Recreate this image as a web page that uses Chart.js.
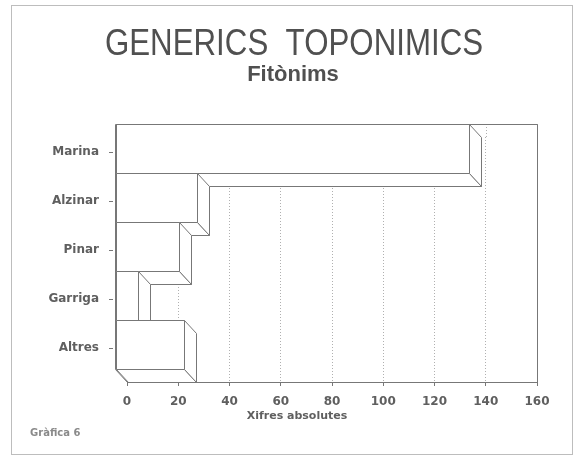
<!DOCTYPE html>
<html>
<head>
<meta charset="utf-8">
<script src="https://cdn.jsdelivr.net/npm/chart.js@4/dist/chart.umd.min.js"></script>
<style>
  html, body { margin: 0; padding: 0; background: #fff; }
</style>
</head>
<body>
<canvas id="chart" width="576" height="457"></canvas>
<script>
const categories = ['Marina', 'Alzinar', 'Pinar', 'Garriga', 'Altres'];
const counts = [138, 32, 25, 9, 27];
const xMin = 0;
const xMax = 160;
const xStep = 20;

// depth of the fake 3D boxes, in pixels
const DX = 12, DY = 13;
const LINE = '#777';
const TEXT = '#5f5f5f';
const px = v => Math.round(v) + 0.5;

const box3d = {
    id: 'box3d',
    beforeDatasetsDraw(chart) {
        // grid lines go up to the front top edge
        const { ctx, chartArea: a, scales: { x } } = chart;
        ctx.save();
        ctx.strokeStyle = '#b0b0b0';
        ctx.setLineDash([1, 2]);
        x.ticks.forEach(t => {
            const gx = px(x.getPixelForValue(t.value));
            ctx.beginPath();
            ctx.moveTo(gx, a.top - DY);
            ctx.lineTo(gx, a.top);
            ctx.stroke();
        });
        ctx.restore();
    },
    afterDatasetsDraw(chart) {
        const { ctx, chartArea: a, scales: { y } } = chart;
        const bars = chart.getDatasetMeta(0).data;
        ctx.save();
        ctx.strokeStyle = LINE;
        ctx.fillStyle = '#fff';
        ctx.lineWidth = 1;
        const poly = (pts, fill = true) => {
            ctx.beginPath();
            pts.forEach(([u, v], i) => i ? ctx.lineTo(px(u), px(v)) : ctx.moveTo(px(u), px(v)));
            ctx.closePath();
            if (fill) ctx.fill();
            ctx.stroke();
        };
        bars.forEach(bar => {
            const { x, y: cy, base, height } = bar.getProps(['x', 'y', 'base', 'height'], true);
            const top = cy - height / 2, bot = cy + height / 2;
            poly([[base - DX, bot - DY], [x - DX, bot - DY], [x, bot], [base, bot]]);
            poly([[x - DX, top - DY], [x, top], [x, bot], [x - DX, bot - DY]]);
            poly([[base - DX, top - DY], [x - DX, top - DY], [x - DX, bot - DY], [base - DX, bot - DY]]);
        });
        poly([[a.left - DX, a.top - DY], [a.right, a.top - DY], [a.right, a.bottom],
              [a.left, a.bottom], [a.left - DX, a.bottom - DY]], false);
        // category tick marks on the front plane
        categories.forEach((c, i) => {
            const ty = px(y.getPixelForValue(i) - 10);
            ctx.beginPath();
            ctx.moveTo(a.left - DX - 6, ty);
            ctx.lineTo(a.left - DX - 2, ty);
            ctx.stroke();
        });
        ctx.restore();
    },
    afterDraw(chart) {
        const { ctx } = chart;
        ctx.save();
        ctx.strokeStyle = '#bdbdbd';
        ctx.strokeRect(11.5, 5.5, 561, 449);

        // title, narrow like the original plotter font
        ctx.fillStyle = '#505050';
        ctx.textAlign = 'center';
        ctx.textBaseline = 'alphabetic';
        ctx.save();
        ctx.translate(294, 55);
        ctx.scale(0.845, 1);
        ctx.font = '37px "Liberation Sans"';
        ctx.fillText('GENERICS  TOPONIMICS', 0, 0);
        ctx.restore();
        ctx.font = 'bold 22px "Liberation Sans"';
        ctx.fillText('Fitònims', 293, 81);

        ctx.fillStyle = TEXT;
        ctx.textBaseline = 'middle';
        ctx.font = 'bold 11px "DejaVu Sans"';
        ctx.fillText('Xifres absolutes', 297, 416);
        ctx.textAlign = 'left';
        ctx.fillStyle = '#8a8a8a';
        ctx.font = 'bold 10px "DejaVu Sans"';
        ctx.fillText('Gràfica 6', 30, 433);
        ctx.restore();
    }
};

new Chart(document.getElementById('chart'), {
    type: 'bar',
    data: {
        labels: categories,
        datasets: [{
            data: counts,
            backgroundColor: '#fff',
            borderWidth: 0,
            barPercentage: 1,
            categoryPercentage: 1
        }]
    },
    options: {
        indexAxis: 'y',
        responsive: false,
        animation: false,
        events: [],
        layout: { padding: { left: 0, right: 39, top: 137, bottom: 0 } },
        plugins: {
            legend: { display: false },
            tooltip: { enabled: false }
        },
        scales: {
            x: {
                min: xMin,
                max: xMax,
                ticks: {
                    stepSize: xStep,
                    color: TEXT,
                    padding: 9,
                    maxRotation: 0,
                    font: { family: '"DejaVu Sans"', size: 12, weight: 'bold' }
                },
                grid: { color: '#b0b0b0', tickColor: LINE, tickLength: 4 },
                border: { color: LINE, dash: [1, 2] },
                afterFit: s => { s.height = 75; }
            },
            y: {
                ticks: {
                    color: TEXT,
                    padding: 28,
                    labelOffset: -10,
                    font: { family: '"DejaVu Sans"', size: 12, weight: 'bold' }
                },
                grid: { display: false, drawTicks: false },
                border: { display: false },
                afterFit: s => { s.width = 127; }
            }
        }
    },
    plugins: [box3d]
});
</script>
</body>
</html>
